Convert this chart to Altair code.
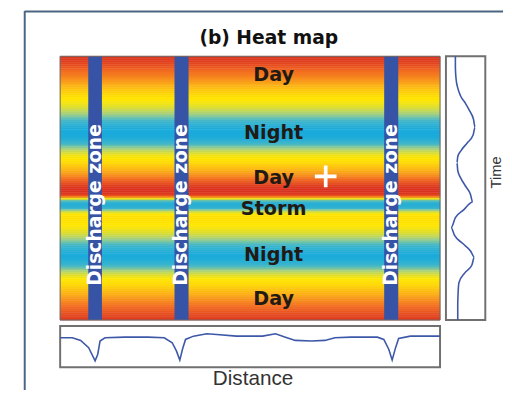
import altair as alt
import pandas as pd

# ---------------- data ----------------
# heat map: temperature index of each 2-px time step, top (t=0) to bottom (t=133)
heat_temp = [9.75, 9.65, 9.55, 9.4, 9.2, 9.0, 8.75, 8.5, 8.3, 8.1,
             7.9, 7.65, 7.4, 7.15, 6.85, 6.55, 6.25, 6.0, 5.75, 5.5,
             5.3, 5.1, 4.95, 4.8, 4.6, 4.35, 4.05, 3.7, 3.3, 2.9,
             2.5, 2.0, 1.6, 1.2, 0.9, 0.6, 0.4, 0.25, 0.2, 0.2,
             0.25, 0.4, 0.65, 1.0, 1.4, 1.95, 2.5, 3.1, 3.7, 4.2,
             4.6, 4.9, 5.1, 5.3, 5.5, 5.85, 6.15, 6.5, 6.85, 7.2,
             7.6, 8.0, 8.4, 8.8, 9.15, 9.45, 9.7, 9.85, 9.9, 9.8,
             9.5, 8.0, 4.6, 2.0, 0.9, 0.6, 0.7, 1.3, 2.8, 4.3,
             5.0, 5.2, 5.25, 5.2, 5.1, 5.0, 4.9, 4.75, 4.55, 4.3,
             3.95, 3.55, 3.1, 2.65, 2.15, 1.7, 1.3, 0.95, 0.65, 0.45,
             0.3, 0.25, 0.3, 0.45, 0.7, 1.05, 1.5, 2.0, 2.6, 3.2,
             3.8, 4.3, 4.7, 4.95, 5.15, 5.35, 5.55, 5.8, 6.05, 6.35,
             6.65, 6.95, 7.25, 7.5, 7.75, 8.0, 8.25, 8.5, 8.7, 8.9,
             9.1, 9.3, 9.45, 9.6]

# discharge zones (distance, 0-100)
zone_start = [7.4, 30.1, 85.3]
zone_end = [11.0, 33.8, 89.0]
zone_label = ["Discharge zone", "Discharge zone", "Discharge zone"]
zone_label_time = 75.5

# period labels
period_label = ["Day", "Night", "Day", "Storm", "Night", "Day"]
period_time = [9.5, 39.0, 62.0, 77.5, 101.0, 123.5]
period_dist = 56.2

# white cross marker
plus_dist = [69.9]
plus_time = [61.0]

# right panel: signal vs time
rp_time = [0, 6, 12, 16, 20, 24, 28, 32, 36, 40, 44, 48, 51, 54, 58, 62, 66,
           70, 74, 78, 82, 87, 91, 95, 99, 102, 106, 110, 115, 120, 126, 134]
rp_val = [2.4, 2.4, 2.6, 3.0, 3.7, 5.0, 6.1, 7.0, 7.4, 6.9, 5.4, 3.8, 3.0,
          2.8, 3.0, 3.8, 5.0, 6.2, 6.8, 4.5, 2.4, 1.3, 2.2, 4.2, 6.3, 7.2,
          6.6, 4.8, 3.3, 3.1, 3.0, 3.0]

# bottom panel: signal vs distance
bp_dist = [0, 3.2, 5.4, 7.5, 9.2, 9.9, 10.5, 11.8, 17.0, 23.1, 27.4, 29.5,
           30.6, 31.5, 32.2, 33.0, 35.1, 38.6, 41.2, 46.4, 53.3, 56.7, 59.3,
           61.9, 66.2, 69.7, 72.3, 76.6, 83.5, 85.2, 86.5, 87.4, 88.3, 89.1,
           92.2, 100]
bp_val = [7.14, 7.14, 6.51, 4.76, 1.59, 3.17, 6.35, 7.14, 7.30, 7.30, 7.14,
          5.95, 3.97, 1.75, 4.37, 6.75, 7.54, 8.10, 7.94, 7.54, 7.54, 8.10,
          7.30, 6.51, 6.35, 6.51, 7.14, 7.30, 7.30, 6.75, 4.37, 1.75, 4.76,
          6.98, 7.54, 7.54]

title_text = "(b) Heat map"
x_title = "Distance"
y_title = "Time"

# ---------------- scales (layout) ----------------
T_MAX = len(heat_temp)
dist_scale = alt.Scale(domain=[0, 100], range=[53, 439], nice=False, zero=False)
time_scale = alt.Scale(domain=[0, T_MAX], range=[46, 314], nice=False, zero=False)
rp_scale = alt.Scale(domain=[0, 10], range=[445, 485], nice=False, zero=False)
bp_scale = alt.Scale(domain=[0, 10], range=[362, 320], nice=False, zero=False)
color_scale = alt.Scale(
    domain=[0, 1.5, 3, 5, 7, 8.5, 10],
    range=["#14a9de", "#45b8c8", "#a9d27c", "#ffe600", "#fba81a", "#f26b22", "#d82e20"],
    interpolate="rgb",
)

heat_df = pd.DataFrame({"t": list(range(len(heat_temp))), "temp": heat_temp})
zone_df = pd.DataFrame({"start": zone_start, "end": zone_end, "label": zone_label})
label_df = pd.DataFrame({"label": period_label, "time": period_time})
plus_df = pd.DataFrame({"dist": plus_dist, "time": plus_time})
rp_df = pd.DataFrame({"time": rp_time, "val": rp_val})
bp_df = pd.DataFrame({"dist": bp_dist, "val": bp_val})

# ---------------- heat map group ----------------
heat = alt.Chart(heat_df).mark_rect(strokeWidth=0.6).transform_calculate(
    t2="datum.t + 1"
).encode(
    x=alt.XDatum(0, type="quantitative", scale=dist_scale, axis=None),
    x2=alt.X2Datum(100),
    y=alt.Y("t:Q", scale=time_scale, axis=None),
    y2="t2:Q",
    color=alt.Color("temp:Q", scale=color_scale, legend=None),
    stroke=alt.Stroke("temp:Q", scale=color_scale, legend=None),
)

zones = alt.Chart(zone_df).mark_rect(color="#3653a5").encode(
    x=alt.X("start:Q", scale=dist_scale, axis=None),
    x2="end:Q",
    y=alt.YDatum(0, type="quantitative", scale=time_scale, axis=None),
    y2=alt.Y2Datum(T_MAX),
)

heat_border = alt.Chart(zone_df.head(1)).mark_rect(
    fillOpacity=0, stroke="#6a6a6a", strokeWidth=1
).encode(
    x=alt.XDatum(0, type="quantitative", scale=dist_scale, axis=None),
    x2=alt.X2Datum(100),
    y=alt.YDatum(0, type="quantitative", scale=time_scale, axis=None),
    y2=alt.Y2Datum(T_MAX),
)

zone_text = alt.Chart(zone_df).mark_text(
    angle=270, color="white", font="DejaVu Sans", fontWeight="bold",
    fontSize=19, align="center", baseline="middle",
).transform_calculate(mid="(datum.start + datum.end) / 2").encode(
    x=alt.X("mid:Q", scale=dist_scale, axis=None),
    y=alt.YDatum(zone_label_time, type="quantitative", scale=time_scale, axis=None),
    text="label:N",
)

labels = alt.Chart(label_df).mark_text(
    color="#221a14", font="DejaVu Sans", fontWeight="bold", fontSize=19.5,
    align="center", baseline="middle",
).encode(
    x=alt.XDatum(period_dist, type="quantitative", scale=dist_scale, axis=None),
    y=alt.Y("time:Q", scale=time_scale, axis=None),
    text="label:N",
)

plus = alt.Chart(plus_df).mark_point(
    shape="M-1,-0.17L1,-0.17L1,0.17L-1,0.17Z M-0.17,-1L0.17,-1L0.17,1L-0.17,1Z",
    filled=True, color="white", opacity=1, size=484,
).encode(
    x=alt.X("dist:Q", scale=dist_scale, axis=None),
    y=alt.Y("time:Q", scale=time_scale, axis=None),
)

heat_group = alt.layer(heat, zones, heat_border, zone_text, labels, plus)

# ---------------- right panel ----------------
rp_frame = alt.Chart(rp_df.head(1)).mark_rect(
    fillOpacity=0, stroke="#707070", strokeWidth=2
).encode(
    x=alt.XDatum(0, type="quantitative", scale=rp_scale, axis=None),
    x2=alt.X2Datum(10),
    y=alt.YDatum(0, type="quantitative", scale=time_scale, axis=None),
    y2=alt.Y2Datum(T_MAX),
)
rp_line = alt.Chart(rp_df).mark_line(
    color="#3d58a8", strokeWidth=1.6, interpolate="monotone"
).encode(
    x=alt.X("val:Q", scale=rp_scale, axis=None),
    y=alt.Y("time:Q", scale=time_scale, axis=None),
    order="time:Q",
)
right_group = alt.layer(rp_frame, rp_line)

# ---------------- bottom panel ----------------
bp_frame = alt.Chart(bp_df.head(1)).mark_rect(
    fillOpacity=0, stroke="#707070", strokeWidth=2
).encode(
    x=alt.XDatum(0, type="quantitative", scale=dist_scale, axis=None),
    x2=alt.X2Datum(100),
    y=alt.YDatum(0, type="quantitative", scale=bp_scale, axis=None),
    y2=alt.Y2Datum(10),
)
bp_line = alt.Chart(bp_df).mark_line(color="#3d58a8", strokeWidth=1.6).encode(
    x=alt.X("dist:Q", scale=dist_scale, axis=None),
    y=alt.Y("val:Q", scale=bp_scale, axis=None),
    order="dist:Q",
)
bottom_group = alt.layer(bp_frame, bp_line)

# ---------------- decorations ----------------
one = pd.DataFrame({"title": [title_text], "xt": [x_title], "yt": [y_title]})

title = alt.Chart(one).mark_text(
    font="DejaVu Sans", fontWeight="bold", fontSize=19, color="#111111",
    align="center", baseline="middle",
).encode(x=alt.value(265), y=alt.value(27), text="title:N")

xlab = alt.Chart(one).mark_text(
    font="Liberation Sans", fontSize=21, color="#333333",
    align="center", baseline="middle",
).encode(x=alt.value(249), y=alt.value(374), text="xt:N")

ylab = alt.Chart(one).mark_text(
    font="Liberation Sans", fontSize=15, color="#333333", angle=270,
    align="center", baseline="middle",
).encode(x=alt.value(496), y=alt.value(164), text="yt:N")

frame_left = alt.Chart(one).mark_rule(color="#4a6682", strokeWidth=2).encode(
    x=alt.value(17), y=alt.value(0), y2=alt.value(385)
)
frame_top = alt.Chart(one).mark_rule(color="#4a6682", strokeWidth=2).encode(
    x=alt.value(17), x2=alt.value(503), y=alt.value(0.5)
)

chart = alt.layer(
    heat_group, right_group, bottom_group, title, xlab, ylab, frame_left, frame_top
).resolve_scale(
    x="independent", y="independent"
).properties(
    width=504, height=385,
    autosize=alt.AutoSizeParams(type="none"),
    padding={"left": 0, "top": 0, "right": 0, "bottom": 0},
).configure_view(stroke=None)

chart.save("out.html", embed_options={"renderer": "svg", "actions": False})
